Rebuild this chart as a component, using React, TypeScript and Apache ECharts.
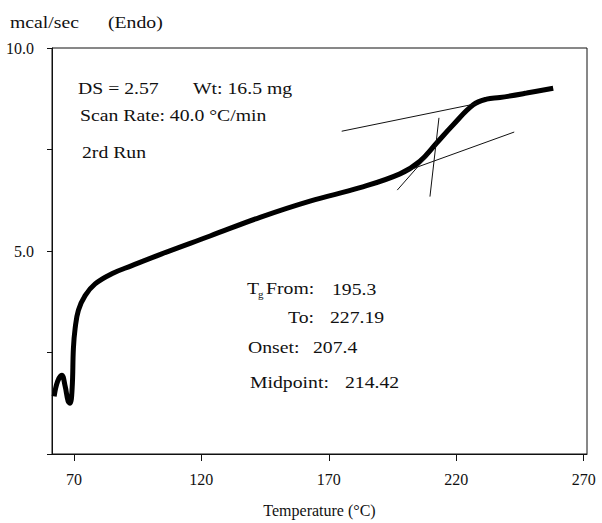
import React, { useEffect, useRef } from "react";
import * as echarts from "echarts";

const tempC = [62.24, 63.6, 65.25, 66.55, 67.73, 68.5, 69.3, 69.8, 70.47, 71.76, 74.39, 78.31, 84.86, 92.71, 104.47, 123.41, 143.02, 162.63, 182.24, 197.92, 205.76, 212.31, 218.82, 226.67, 231.92, 237.14, 247.61, 258.04];
const heatFlow = [1.42, 1.79, 1.94, 1.67, 1.3, 1.25, 1.62, 2.6, 3.09, 3.54, 3.9, 4.19, 4.44, 4.64, 4.93, 5.37, 5.83, 6.23, 6.56, 6.9, 7.21, 7.66, 8.11, 8.6, 8.74, 8.78, 8.89, 9.01];

const upperTangent = [[175.06, 7.95], [227.99, 8.63]];
const lowerTangent = [[199.1, 6.94], [242.75, 7.93]];
const inflectionTangent = [[196.85, 6.5], [209.2, 7.38]];
const crossLine = [[213.22, 8.28], [209.69, 6.34]];

const xTicks = [70, 120, 170, 220, 270];
const yLabelled = [5, 10];

const FONT = "Liberation Serif";

export default function App() {
  const ref = useRef<HTMLDivElement>(null);
  useEffect(() => {
    document.body.style.margin = "0";
    const chart = echarts.init(ref.current!, null, { renderer: "svg" });
    const txt = (text: string, x: number, y: number, size = 17, sx = 1.16) => ({
      type: "text",
      x,
      y,
      scaleX: sx,
      style: {
        text,
        font: `${size}px "${FONT}"`,
        fill: "#111",
        textVerticalAlign: "middle",
        verticalAlign: "middle",
      },
    });
    const thin = (data: number[][]) => ({
      type: "line",
      data,
      symbol: "none",
      lineStyle: { color: "#111", width: 1 },
      silent: true,
    });
    chart.setOption({
      animation: false,
      backgroundColor: "#fff",
      grid: { left: 52, top: 48, width: 535, height: 408, show: true, borderColor: "#111", borderWidth: 1 },
      xAxis: {
        type: "value",
        min: 61.4,
        max: 271.3,
        axisLine: { lineStyle: { color: "#111" } },
        axisTick: { show: true, length: 7, lineStyle: { color: "#111" }, customValues: xTicks },
        axisLabel: { color: "#111", fontFamily: FONT, fontSize: 16, margin: 17, customValues: xTicks },
        splitLine: { show: false },
        name: "Temperature (°C)",
        nameLocation: "middle",
        nameGap: 48,
        nameTextStyle: { color: "#111", fontFamily: FONT, fontSize: 16 },
      },
      yAxis: {
        type: "value",
        min: 0,
        max: 10,
        interval: 2.5,
        axisLine: { show: true, lineStyle: { color: "#111" } },
        axisTick: { show: true, length: 5, lineStyle: { color: "#111" } },
        axisLabel: {
          color: "#111",
          fontFamily: FONT,
          fontSize: 16,
          margin: 18,
          padding: [6, 0, 0, 0],
          formatter: (v: number) => (yLabelled.includes(v) ? v.toFixed(1) : ""),
        },
        splitLine: { show: false },
      },
      series: [
        {
          type: "line",
          data: tempC.map((t, i) => [t, heatFlow[i]]),
          symbol: "none",
          smooth: 0.4,
          lineStyle: { color: "#000", width: 5 },
          silent: true,
        },
        thin(upperTangent),
        thin(lowerTangent),
        thin(inflectionTangent),
        thin(crossLine),
      ],
      graphic: [
        txt("mcal/sec", 10, 22),
        txt("(Endo)", 108, 22),
        txt("DS = 2.57", 78, 88),
        txt("Wt: 16.5 mg", 193, 88),
        txt("Scan Rate: 40.0 °C/min", 80, 115),
        txt("2rd Run", 82, 152),
        txt("T", 247, 288),
        txt("g", 258, 294, 11, 1),
        txt("From:", 266, 288),
        txt("195.3", 332, 289),
        txt("To:", 288, 317),
        txt("227.19", 330, 317),
        txt("Onset:", 248, 347),
        txt("207.4", 313, 347),
        txt("Midpoint:", 250, 382),
        txt("214.42", 345, 382),
      ],
    });
    return () => chart.dispose();
  }, []);
  return <div ref={ref} style={{ width: 602, height: 523 }} />;
}
